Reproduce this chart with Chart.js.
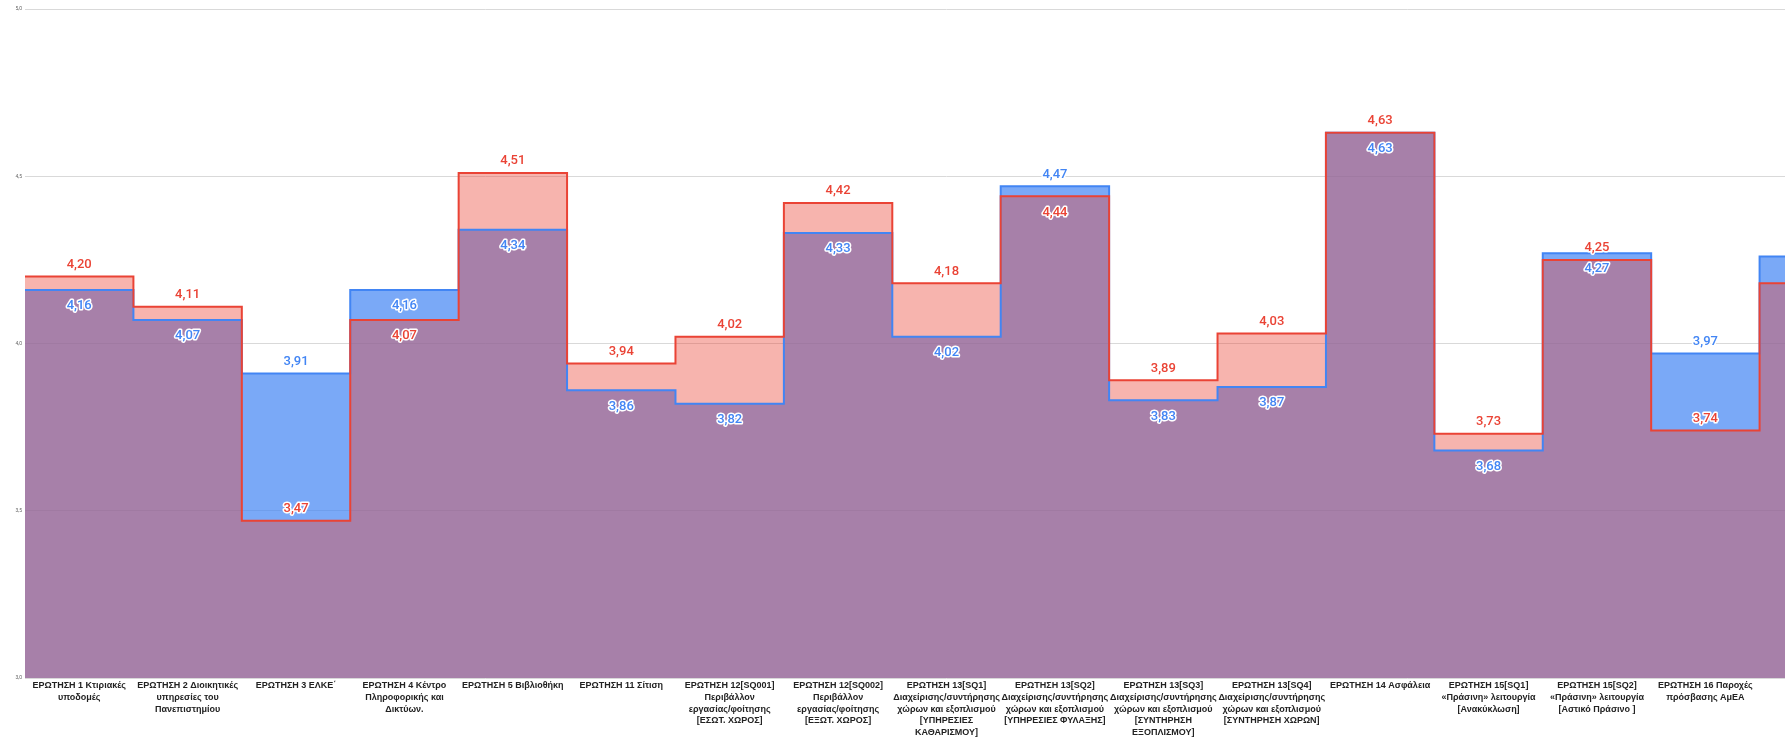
<!DOCTYPE html>
<html>
<head>
<meta charset="utf-8">
<title>Stepped area</title>
<script src="https://cdn.jsdelivr.net/npm/chart.js@4.4.0/dist/chart.umd.min.js"></script>
<style>
    html, body { margin: 0; padding: 0; background: #fff; overflow: hidden; }
    #wrap { width: 1872px; height: 738px; }
</style>
</head>
<body>
<div id="wrap"><canvas id="chart" width="1872" height="738"></canvas></div>
<script>
// Categories (x axis), already wrapped as in the picture
const categories = [
    ['ΕΡΩΤΗΣΗ 1 Κτιριακές', 'υποδομές'],
    ['ΕΡΩΤΗΣΗ 2 Διοικητικές', 'υπηρεσίες του', 'Πανεπιστημίου'],
    ['ΕΡΩΤΗΣΗ 3 ΕΛΚΕ΄'],
    ['ΕΡΩΤΗΣΗ 4 Κέντρο', 'Πληροφορικής και', 'Δικτύων.'],
    ['ΕΡΩΤΗΣΗ 5 Βιβλιοθήκη'],
    ['ΕΡΩΤΗΣΗ 11 Σίτιση'],
    ['ΕΡΩΤΗΣΗ 12[SQ001]', 'Περιβάλλον', 'εργασίας/φοίτησης', '[ΕΣΩΤ. ΧΩΡΟΣ]'],
    ['ΕΡΩΤΗΣΗ 12[SQ002]', 'Περιβάλλον', 'εργασίας/φοίτησης', '[ΕΞΩΤ. ΧΩΡΟΣ]'],
    ['ΕΡΩΤΗΣΗ 13[SQ1]', 'Διαχείρισης/συντήρησης', 'χώρων και εξοπλισμού', '[ΥΠΗΡΕΣΙΕΣ', 'ΚΑΘΑΡΙΣΜΟΥ]'],
    ['ΕΡΩΤΗΣΗ 13[SQ2]', 'Διαχείρισης/συντήρησης', 'χώρων και εξοπλισμού', '[ΥΠΗΡΕΣΙΕΣ ΦΥΛΑΞΗΣ]'],
    ['ΕΡΩΤΗΣΗ 13[SQ3]', 'Διαχείρισης/συντήρησης', 'χώρων και εξοπλισμού', '[ΣΥΝΤΗΡΗΣΗ', 'ΕΞΟΠΛΙΣΜΟΥ]'],
    ['ΕΡΩΤΗΣΗ 13[SQ4]', 'Διαχείρισης/συντήρησης', 'χώρων και εξοπλισμού', '[ΣΥΝΤΗΡΗΣΗ ΧΩΡΩΝ]'],
    ['ΕΡΩΤΗΣΗ 14 Ασφάλεια'],
    ['ΕΡΩΤΗΣΗ 15[SQ1]', '«Πράσινη» λειτουργία', '[Ανακύκλωση]'],
    ['ΕΡΩΤΗΣΗ 15[SQ2]', '«Πράσινη» λειτουργία', '[Αστικό Πράσινο ]'],
    ['ΕΡΩΤΗΣΗ 16 Παροχές', 'πρόσβασης ΑμΕΑ'],
    ['ΕΡΩΤΗΣΗ 17']
];

// Series values
const redValues  = [4.20, 4.11, 3.47, 4.07, 4.51, 3.94, 4.02, 4.42, 4.18, 4.44, 3.89, 4.03, 4.63, 3.73, 4.25, 3.74, 4.18];
const blueValues = [4.16, 4.07, 3.91, 4.16, 4.34, 3.86, 3.82, 4.33, 4.02, 4.47, 3.83, 3.87, 4.63, 3.68, 4.27, 3.97, 4.26];

// Y tick values
const yTicks = [3, 3.5, 4, 4.5, 5];

const RED = '#EA4335';
const BLUE = '#4285F4';

// Where the value labels sit (default: red above its step, blue below)
const labelOverrides = {
    2: { red: 'above', blue: 'above' },
    3: { red: 'below', blue: 'below' },
    9: { red: 'below', blue: 'above' },
    15: { red: 'above', blue: 'above' }
};

function labelSides(i) {
    return labelOverrides[i] || { red: 'above', blue: 'below' };
}

// Each category is a full-width step: one point at its left edge,
// plus a closing point at the right edge of the last column
function toSteps(values) {
    const pts = values.map((v, i) => ({ x: i, y: v }));
    pts.push({ x: values.length, y: values[values.length - 1] });
    return pts;
}

function formatValue(v) {
    return v.toFixed(2).replace('.', ',');
}

// Value labels with a white halo
const valueLabels = {
    id: 'valueLabels',
    afterDatasetsDraw(chart) {
        const ctx = chart.ctx;
        const xs = chart.scales.x;
        const ys = chart.scales.y;
        ctx.save();
        ctx.font = '500 13px Roboto';
        ctx.textAlign = 'center';
        ctx.textBaseline = 'middle';
        ctx.lineJoin = 'round';
        categories.forEach((_, i) => {
            const cx = xs.getPixelForValue(i + 0.5);
            const sides = labelSides(i);
            [[blueValues, BLUE, sides.blue], [redValues, RED, sides.red]].forEach(([vals, color, side]) => {
                const py = ys.getPixelForValue(vals[i]) + (side === 'above' ? -12 : 16);
                const text = formatValue(vals[i]);
                ctx.strokeStyle = '#fff';
                ctx.lineWidth = 3;
                ctx.strokeText(text, cx, py);
                ctx.fillStyle = color;
                ctx.fillText(text, cx, py);
            });
        });
        ctx.restore();
    }
};

new Chart(document.getElementById('chart'), {
    type: 'line',
    data: {
        datasets: [
            {
                label: 'Σειρά 2',
                data: toSteps(redValues),
                stepped: true,
                borderColor: RED,
                backgroundColor: 'rgba(234, 67, 53, 0.4)',
                borderWidth: 2,
                pointRadius: 0,
                fill: 'start'
            },
            {
                label: 'Σειρά 1',
                data: toSteps(blueValues),
                stepped: true,
                borderColor: BLUE,
                backgroundColor: 'rgba(66, 133, 244, 0.7)',
                borderWidth: 2,
                pointRadius: 0,
                fill: 'start'
            }
        ]
    },
    options: {
        responsive: false,
        animation: false,
        layout: {
            padding: { top: 9, right: 4, left: 0, bottom: 0 }
        },
        plugins: {
            legend: { display: false },
            tooltip: { enabled: false },
            filler: { drawTime: 'beforeDatasetsDraw' }
        },
        scales: {
            x: {
                type: 'linear',
                min: 0,
                max: categories.length,
                grid: { display: false, drawTicks: false },
                border: { display: false },
                afterBuildTicks: axis => {
                    axis.ticks = categories.map((_, i) => ({ value: i + 0.5 }));
                },
                afterFit: axis => { axis.height = 60; },
                ticks: {
                    autoSkip: false,
                    maxRotation: 0,
                    minRotation: 0,
                    padding: 2,
                    color: '#222',
                    font: { family: '"Liberation Sans", Arial, sans-serif', size: 9, weight: 'bold', lineHeight: 1.3 },
                    callback: value => categories[Math.floor(value)]
                }
            },
            y: {
                min: 3,
                max: 5,
                afterBuildTicks: axis => {
                    axis.ticks = yTicks.map(v => ({ value: v }));
                },
                afterFit: axis => { axis.width = 25; },
                grid: { color: '#d9d9d9', drawTicks: false },
                border: { display: false },
                ticks: {
                    padding: 3,
                    color: '#666',
                    font: { family: 'Roboto', size: 5 },
                    callback: v => v.toFixed(1).replace('.', ',')
                }
            }
        }
    },
    plugins: [valueLabels]
});
</script>
</body>
</html>
